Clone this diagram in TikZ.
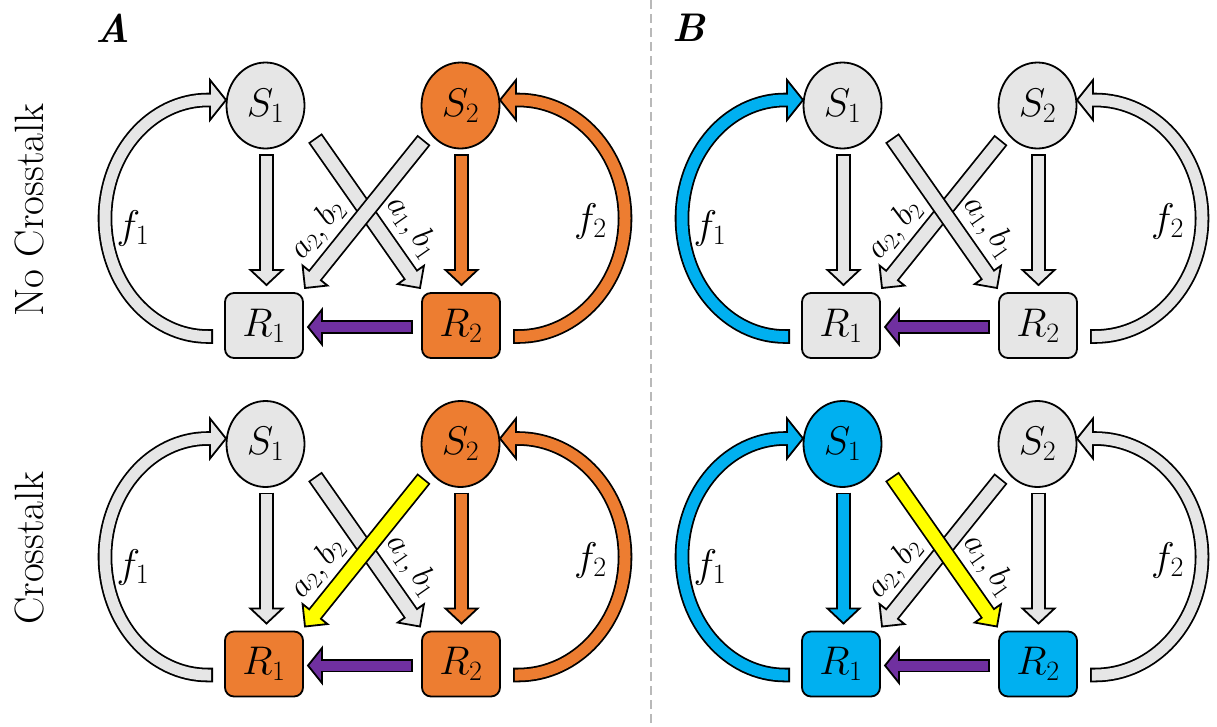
\RequirePackage{fix-cm}
\documentclass[tikz,border=0pt]{standalone}
\usetikzlibrary{calc,shapes.geometric}
\definecolor{gfill}{HTML}{E6E6E6}
\definecolor{orng}{HTML}{ED7D31}
\definecolor{blu}{HTML}{00B0F0}
\definecolor{yel}{HTML}{FFFF00}
\definecolor{purp}{HTML}{7030A0}
\newcommand\lw{1.8pt}
\newcommand\lwn{1.8}
\tikzset{
  snode/.style={ellipse,draw,line width=\lw,minimum width=78pt,minimum height=86pt,inner sep=0pt,font=\fontsize{40}{48}\selectfont},
  rnode/.style={rectangle,draw,line width=\lw,rounded corners=9pt,minimum width=78pt,minimum height=65pt,inner sep=0pt,font=\fontsize{40}{48}\selectfont},
  mlbl/.style={inner sep=0pt,font=\fontsize{40}{48}\selectfont},
  dlbl/.style={inner sep=0pt,font=\fontsize{33}{40}\selectfont},
  rowlbl/.style={rotate=90,anchor=base,inner sep=0pt,font=\fontsize{41}{49}\selectfont},
  ttl/.style={inner sep=0pt,font=\fontsize{40}{48}\selectfont\bfseries\itshape}
}
% straight block arrow: color, start, end, shaft width, head half width, head length
\newcommand\sarrow[6]{%
  \coordinate (ba1) at #2;
  \coordinate (ba2) at #3;
  \coordinate (ba3) at ($(ba2)!#6pt!(ba1)$);
  \draw[line width={#4pt+2*\lw}] (ba1) -- (ba3);
  \filldraw[fill=#1,line width=\lw,line join=miter] ($(ba3)!#5pt!90:(ba2)$) -- (ba2) -- ($(ba3)!#5pt!-90:(ba2)$) -- cycle;
  \draw[#1,line width=#4pt] ($(ba1)!\lw!(ba3)$) -- ($(ba3)!3pt!(ba2)$);
}
% one panel: prefix, dx, dy, order flag (1: S2->R1 on top)
\newcommand\panel[4]{%
  \node[snode,fill=cSa] (#1S1) at (265.5+#2,105.5+#3) {$S_1$};
  \node[snode,fill=cSb] (#1S2) at (460.5+#2,105.5+#3) {$S_2$};
  \node[rnode,fill=cRa] (#1R1) at (264+#2,325.5+#3) {$R_1$};
  \node[rnode,fill=cRb] (#1R2) at (461+#2,325.5+#3) {$R_2$};
  % f1 loop
  \coordinate (#1T1) at ($(#1R1)+(-51,11)$);
  \coordinate (#1P1) at ($(#1S1)+(-39.5,-5.5)$);
  \coordinate (#1B1) at ($(#1P1)+(-16,0)$);
  \draw[line width={11pt+2*\lw}] (#1T1) -- ($(#1T1)+(-5,0)$) arc[start angle=90,end angle=270,x radius=103,y radius=118.25] -- (#1B1);
  \filldraw[fill=cfa,line width=\lw,line join=miter] ($(#1B1)+(0,-20)$) -- (#1P1) -- ($(#1B1)+(0,20)$) -- cycle;
  \draw[cfa,line width=11pt] ($(#1T1)+(-\lwn,0)$) -- ($(#1T1)+(-5,0)$) arc[start angle=90,end angle=270,x radius=103,y radius=118.25] -- ($(#1B1)+(3,0)$);
  % f2 loop
  \coordinate (#1T2) at ($(#1R2)+(52,11)$);
  \coordinate (#1P2) at ($(#1S2)+(39.5,-5.5)$);
  \coordinate (#1B2) at ($(#1P2)+(16,0)$);
  \draw[line width={11pt+2*\lw}] (#1T2) -- ($(#1T2)+(5,0)$) arc[start angle=90,end angle=-90,x radius=107,y radius=118.25] -- (#1B2);
  \filldraw[fill=cfb,line width=\lw,line join=miter] ($(#1B2)+(0,-20)$) -- (#1P2) -- ($(#1B2)+(0,20)$) -- cycle;
  \draw[cfb,line width=11pt] ($(#1T2)+(\lwn,0)$) -- ($(#1T2)+(5,0)$) arc[start angle=90,end angle=-90,x radius=107,y radius=118.25] -- ($(#1B2)+(-3,0)$);
  % vertical arrows
  \sarrow{cva}{($(#1S1)+(1,48.5)$)}{($(#1R1)+(2.5,-40.5)$)}{11.5}{16}{15}
  \sarrow{cvb}{($(#1S2)+(1,48.5)$)}{($(#1R2)+(0.5,-40.5)$)}{11.5}{16}{15}
  % diagonals
  \ifnum#4=1
    \sarrow{cdx}{($(#1S1)+(49.5,32.5)$)}{($(#1R2)+(-41,-37.5)$)}{13}{16}{16}
    \sarrow{cdy}{($(#1S2)+(-36.5,34.5)$)}{($(#1R1)+(41,-37.5)$)}{13}{16}{16}
  \else
    \sarrow{cdy}{($(#1S2)+(-36.5,34.5)$)}{($(#1R1)+(41,-37.5)$)}{13}{16}{16}
    \sarrow{cdx}{($(#1S1)+(49.5,32.5)$)}{($(#1R2)+(-41,-37.5)$)}{13}{16}{16}
  \fi
  % purple R2 -> R1
  \sarrow{purp}{($(#1R2)+(-48,1.5)$)}{($(#1R1)+(44,1.5)$)}{10}{17.5}{14}
  % labels
  \node[mlbl] (#1f1) at ($(#1R1)+(-131,-97)$) {$f_1$};
  \node[mlbl] (#1f2) at ($(#1R2)+(129.5,-104)$) {$f_2$};
  \node[dlbl,rotate=51] (#1l21) at ($(#1R1)+(53.5,-96)$) {$a_2,b_2$};
  \node[dlbl,rotate=-55] (#1l12) at ($(#1R2)+(-49,-98.5)$) {$a_1,b_1$};
}
\begin{document}
\begin{tikzpicture}[x=1pt,y=-1pt]
\fill[white] (0,0) rectangle (1217,726);
\useasboundingbox (0,0) rectangle (1217,726);
\coordinate (sepT) at (651,0);
\coordinate (sepB) at (651,726);
\draw[draw=gray!55,line width=1.3pt,dash pattern=on 9pt off 5pt] (sepT) -- (sepB);
\node[ttl] (titleA) at (113,28) {A};
\node[ttl] (titleB) at (689,28) {B};
\node[rowlbl] (rowNo) at (43,210) {No Crosstalk};
\node[rowlbl] (rowCr) at (43,548) {Crosstalk};
% Panel A top
\colorlet{cSa}{gfill}\colorlet{cSb}{orng}\colorlet{cRa}{gfill}\colorlet{cRb}{orng}
\colorlet{cfa}{gfill}\colorlet{cfb}{orng}\colorlet{cva}{gfill}\colorlet{cvb}{orng}
\colorlet{cdx}{gfill}\colorlet{cdy}{gfill}
\panel{At}{0}{0}{1}
% Panel A bottom
\colorlet{cRa}{orng}\colorlet{cdy}{yel}
\panel{Ab}{0}{338.5}{1}
% Panel B top
\colorlet{cSa}{gfill}\colorlet{cSb}{gfill}\colorlet{cRa}{gfill}\colorlet{cRb}{gfill}
\colorlet{cfa}{blu}\colorlet{cfb}{gfill}\colorlet{cva}{gfill}\colorlet{cvb}{gfill}
\colorlet{cdx}{gfill}\colorlet{cdy}{gfill}
\panel{Bt}{577}{0}{0}
% Panel B bottom
\colorlet{cSa}{blu}\colorlet{cRa}{blu}\colorlet{cRb}{blu}\colorlet{cva}{blu}\colorlet{cdx}{yel}
\panel{Bb}{577}{338.5}{0}
\end{tikzpicture}
\end{document}
